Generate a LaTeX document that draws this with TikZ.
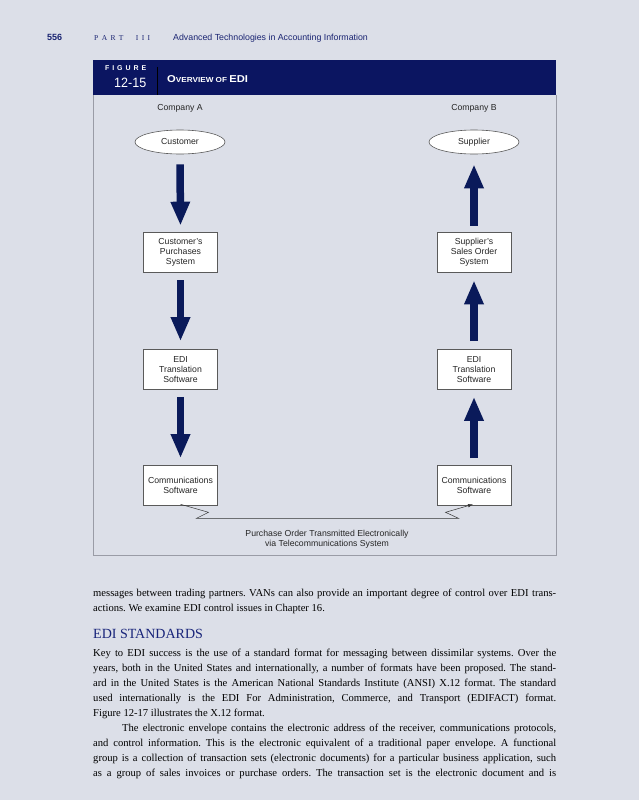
\documentclass[tikz,border=0pt]{standalone}
\usepackage{fontspec}
\setmainfont{Liberation Serif}
\setsansfont{Liberation Sans}
\usetikzlibrary{arrows.meta,shapes.geometric}
\definecolor{pagebg}{HTML}{DCDFE8}
\definecolor{band}{HTML}{0B1561}
\definecolor{arrowblue}{HTML}{0A1A5A}
\definecolor{inknavy}{HTML}{1A2472}
\definecolor{headnavy}{HTML}{18247A}
\definecolor{frame}{HTML}{9A9CA6}
\definecolor{boxline}{HTML}{5A5A5A}
\tikzset{
  figtext/.style={font=\sffamily\fontsize{8.7}{10}\selectfont, align=center, text=black!85},
  sysbox/.style={figtext, draw=boxline, fill=white, line width=0.6pt, minimum width=74pt, minimum height=40pt, inner sep=1pt},
  endnode/.style={figtext, ellipse, draw=boxline, fill=white, line width=0.6pt, minimum width=90pt, minimum height=24pt, inner sep=0pt},
  bigarrow/.style={draw=arrowblue, line width=7.5pt, -{Triangle[width=18pt,length=24pt]}},
  bodyline/.style={inner sep=0pt, anchor=base west, font=\fontsize{10.6}{12}\selectfont, text=black},
  wire/.style={draw=black!80, line width=0.5pt, -{Latex[length=5pt,width=3.5pt]}}
}
\begin{document}
\frenchspacing
\begin{tikzpicture}[x=1pt,y=-1pt]
\fill[pagebg] (0,0) rectangle (639,800);
\useasboundingbox (0,0) rectangle (639,800);

% page header
\node[anchor=base west, inner sep=0pt, font=\sffamily\bfseries\fontsize{9}{9}\selectfont, text=inknavy] (pnum) at (47,40.5) {556};
\node[anchor=base west, inner sep=0pt, font=\fontsize{7.5}{8}\selectfont, text=inknavy] (part) at (94,40.5) {\makebox[56pt][s]{P\hfill A\hfill R\hfill T\hfill\hskip 9pt I\hfill I\hfill I}};
\node[anchor=base west, inner sep=0pt, font=\sffamily\fontsize{8.8}{9}\selectfont, text=inknavy] (chap) at (173,40.5) {Advanced Technologies in Accounting Information};

% figure frame
\fill[band] (93,60) rectangle (556,95);
\draw[frame, line width=0.8pt] (93,95) -- (93,555.5) -- (556,555.5) -- (556,95);
\draw[frame, line width=1.6pt] (93,555.5) -- (556,555.5);
\draw[black, line width=1pt] (157,67) -- (157,95);
\node[anchor=base west, inner sep=0pt, font=\sffamily\bfseries\fontsize{7}{7}\selectfont, text=white] (figword) at (105,70.5) {\makebox[41pt][s]{F\hfill I\hfill G\hfill U\hfill R\hfill E}};
\node[anchor=base east, inner sep=0pt, font=\sffamily\fontsize{13.5}{14}\selectfont, text=white] (fignum) at (146.5,87) {\scalebox{0.93}[1]{12-15}};
\node[anchor=base west, inner sep=0pt, font=\sffamily\bfseries, text=white] (figtitle) at (167,82.5) {\scalebox{1.12}[1]{{\fontsize{10}{10}\selectfont O}{\fontsize{7.3}{10}\selectfont VERVIEW OF }{\fontsize{10}{10}\selectfont EDI}}};

% diagram
\node[figtext] (compA) at (180,108) {Company A};
\node[figtext] (compB) at (474,108) {Company B};
\node[endnode] (cust) at (180,142) {Customer};
\node[endnode] (supp) at (474,142) {Supplier};
\node[sysbox] (purch) at (180.5,252) {Customer's\\Purchases\\System};
\node[sysbox] (sales) at (474,252) {Supplier's\\Sales Order\\System};
\node[sysbox] (ediA) at (180.5,369.5) {EDI\\Translation\\Software};
\node[sysbox] (ediB) at (474,369.5) {EDI\\Translation\\Software};
\node[sysbox] (comA) at (180.5,485.5) {Communications\\Software};
\node[sysbox] (comB) at (474,485.5) {Communications\\Software};

\draw[bigarrow, shorten <=10pt, shorten >=6pt] (cust.south) -- (purch.north);
\draw[bigarrow, shorten <=8pt, shorten >=8pt] (purch.south) -- (ediA.north);
\draw[bigarrow, shorten <=7pt, shorten >=7pt] (ediA.south) -- (comA.north);
\draw[bigarrow, shorten <=6pt, shorten >=10pt] (sales.north) -- (supp.south);
\draw[bigarrow, shorten <=8pt, shorten >=8pt] (ediB.north) -- (sales.south);
\draw[bigarrow, shorten <=7pt, shorten >=7pt] (comB.north) -- (ediB.south);

\draw[wire] ([yshift=1.5pt]comA.south) -- ++(28,8) -- ++(-12,6) -- ++(262,0) -- ++(-13,-6) -- ([xshift=-1pt,yshift=1.5pt]comB.south);
\node[figtext] (link) at (327,539.5) {Purchase Order Transmitted Electronically\\via Telecommunications System};

% body text
\node[bodyline] (b1) at (93,596) {\makebox[463pt][s]{messages between trading partners. VANs can also provide an important degree of control over EDI trans-}};
\node[bodyline] (b2) at (93,611) {actions. We examine EDI control issues in Chapter 16.};
\node[anchor=base west, inner sep=0pt, font=\fontsize{14}{15}\selectfont, text=headnavy] (head) at (93,638) {EDI STANDARDS};
\node[bodyline] (b3) at (93,656) {\makebox[463pt][s]{Key to EDI success is the use of a standard format for messaging between dissimilar systems. Over the}};
\node[bodyline] (b4) at (93,671) {\makebox[463pt][s]{years, both in the United States and internationally, a number of formats have been proposed. The stand-}};
\node[bodyline] (b5) at (93,686) {\makebox[463pt][s]{ard in the United States is the American National Standards Institute (ANSI) X.12 format. The standard}};
\node[bodyline] (b6) at (93,701) {\makebox[463pt][s]{used internationally is the EDI For Administration, Commerce, and Transport (EDIFACT) format.}};
\node[bodyline] (b7) at (93,716) {Figure 12-17 illustrates the X.12 format.};
\node[bodyline] (b8) at (122,731) {\makebox[434pt][s]{The electronic envelope contains the electronic address of the receiver, communications protocols,}};
\node[bodyline] (b9) at (93,746) {\makebox[463pt][s]{and control information. This is the electronic equivalent of a traditional paper envelope. A functional}};
\node[bodyline] (b10) at (93,761) {\makebox[463pt][s]{group is a collection of transaction sets (electronic documents) for a particular business application, such}};
\node[bodyline] (b11) at (93,776) {\makebox[463pt][s]{as a group of sales invoices or purchase orders. The transaction set is the electronic document and is}};
\end{tikzpicture}
\end{document}
